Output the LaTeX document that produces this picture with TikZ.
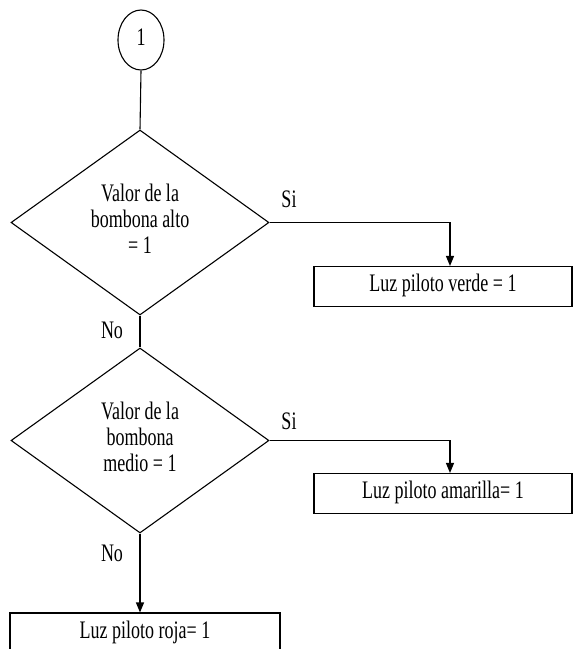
\documentclass[tikz,border=0pt]{standalone}
\usepackage{fontspec}
\setmainfont{Liberation Serif}
\usepackage{graphicx}
\usetikzlibrary{shapes.geometric,arrows.meta}
% text set slightly taller than wide, one or more centred lines
\newcommand{\tallt}[1]{\scalebox{1}[1.4]{\begin{tabular}{@{}c@{}}#1\end{tabular}}}

\begin{document}
\begin{tikzpicture}[x=1pt,y=-1pt,
  every node/.style={font=\fontsize{18}{18.6}\selectfont},
  conn/.style={draw, ellipse, line width=1.1pt, minimum width=46pt, minimum height=60pt, inner sep=0pt},
  decision/.style={draw, diamond, aspect=1.4, line width=1.1pt, minimum width=258pt, minimum height=185pt, inner sep=0pt},
  actbox/.style={draw, rectangle, line width=1.1pt, minimum width=258pt, minimum height=40pt, inner sep=0pt},
  flow/.style={line width=1.1pt},
  arr/.style={flow, -{Triangle[length=10pt,width=8pt]}},
  lbl/.style={inner sep=0pt}
]
\useasboundingbox (0,0) rectangle (573,649);
\clip (0,0) rectangle (573,649);
\fill[white] (0,0) rectangle (573,649);

% connector and decisions
\node[conn] (c1) at (141,40) {\tallt{1}};
\node[decision] (d1) at (140,222.5) {\tallt{Valor de la\\bombona alto\\= 1}};
\node[decision] (d2) at (140,440.5) {\tallt{Valor de la\\bombona\\medio = 1}};

% actions
\node[actbox] (b1) at (443,286.5) {\tallt{Luz piloto verde = 1}};
\node[actbox] (b2) at (443,493.5) {\tallt{Luz piloto amarilla= 1}};
\node[actbox, minimum width=270pt] (b3) at (145,633) {\tallt{Luz piloto roja= 1}};

% branch labels
\node[lbl] (s1) at (289,202) {\tallt{Si}};
\node[lbl] (n1) at (112,333) {\tallt{No}};
\node[lbl] (s2) at (289,424) {\tallt{Si}};
\node[lbl] (n2) at (112,556) {\tallt{No}};

% flow lines
\draw[flow] (c1.south) -- (d1.north);
\draw[arr] (d1.east) -| ([xshift=7pt]b1.north);
\draw[flow] (d1.south) -- (d2.north);
\draw[arr] (d2.east) -| ([xshift=7pt]b2.north);
\draw[arr] (d2.south) -- (d2.south |- b3.north);
\end{tikzpicture}
\end{document}
